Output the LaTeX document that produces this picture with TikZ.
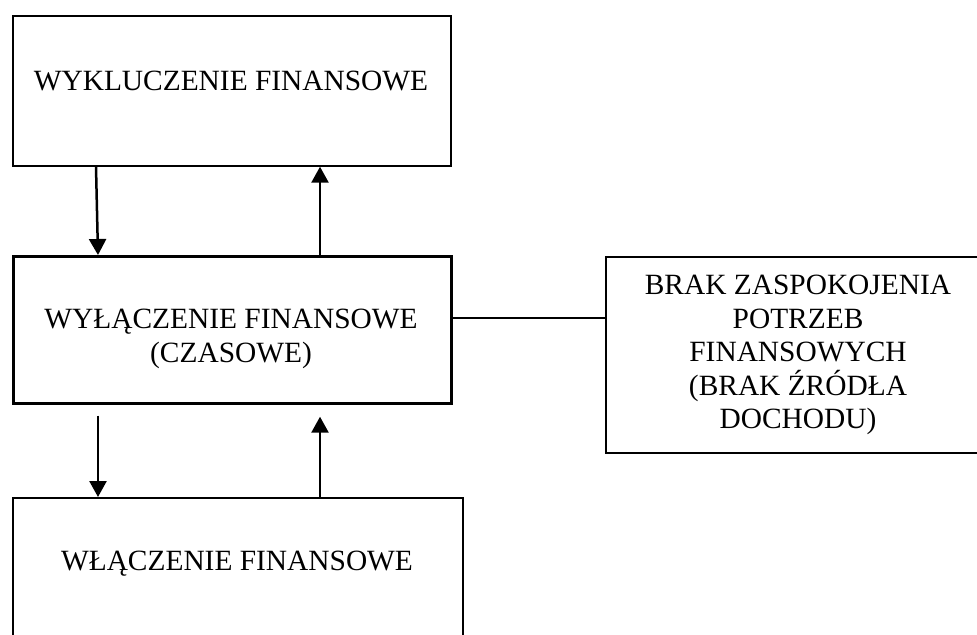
\documentclass[tikz,border=0pt]{standalone}
\usepackage{fontspec}
\setmainfont{Liberation Serif}
\usetikzlibrary{arrows.meta,calc}

\tikzset{
  box/.style={draw=black, rectangle, anchor=north west, inner sep=0pt},
  thinbox/.style={box, line width=0.85pt},
  thickbox/.style={box, line width=1.35pt},
  lbl/.style={anchor=north, inner sep=0pt, align=center,
    font=\fontsize{14.7}{16.75}\selectfont},
  arr/.style={line width=1.25pt,
    -{Triangle[width=8.5pt,length=8pt]}},
  link/.style={line width=0.85pt}
}

\begin{document}
\begin{tikzpicture}[x=0.5pt, y=-0.5pt]
  \useasboundingbox (0,0) rectangle (977,634);
  \clip (0,0) rectangle (977,634);
  \fill[white] (0,0) rectangle (977,634);

  % boxes
  \node[thinbox, minimum width=219pt, minimum height=75pt] (b1) at (12,15) {};
  \node[thickbox, minimum width=219pt, minimum height=73.5pt] (b2) at (12,255) {};
  \node[thinbox, minimum width=225pt, minimum height=100pt] (b3) at (12,497) {};
  \node[thinbox, minimum width=193pt, minimum height=98pt] (b4) at (605,256) {};

  % labels
  \node[lbl] (t1) at (231,71) {WYKLUCZENIE FINANSOWE};
  \node[lbl] (t2) at (231,309) {WYŁĄCZENIE FINANSOWE\\(CZASOWE)};
  \node[lbl] (t3) at (237,551) {WŁĄCZENIE FINANSOWE};
  \node[lbl] (t4) at (798,275) {BRAK ZASPOKOJENIA\\POTRZEB\\FINANSOWYCH\\(BRAK ŹRÓDŁA\\DOCHODU)};

  % arrows between the left column boxes
  \draw[arr] ($(b1.south west)+(84,0)$) -- ($(b2.north west)+(86,0)$);
  \draw[arr] ($(b2.north west)+(308,0)$) -- ($(b1.south west)+(308,0)$);
  \draw[arr] ($(b2.south west)+(86,11)$) -- ($(b3.north west)+(86,0)$);
  \draw[arr] ($(b3.north west)+(308,0)$) -- ($(b2.south west)+(308,12)$);

  % link to the side box
  \draw[link] ($(b2.north east)+(0,63)$) -- ($(b4.north west)+(0,62)$);
\end{tikzpicture}
\end{document}
